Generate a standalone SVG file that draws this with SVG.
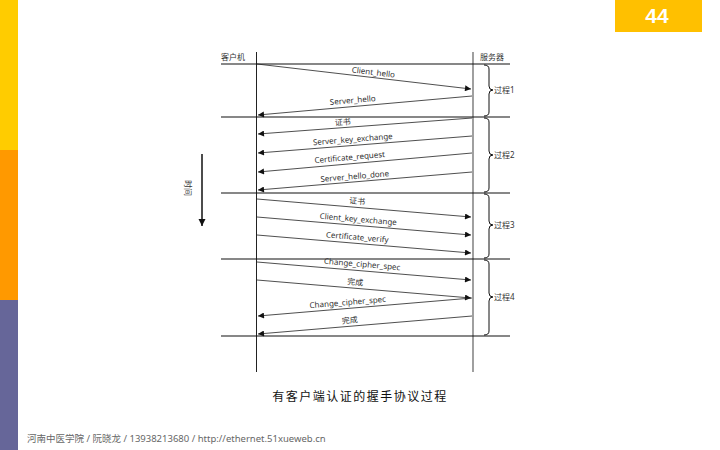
<svg xmlns="http://www.w3.org/2000/svg" width="720" height="450" viewBox="0 0 720 450">
<style>
.lbl{font-family:"Noto Sans","Noto Sans CJK SC",sans-serif;font-size:8px;fill:#333;text-anchor:middle}
.side{font-family:"Noto Sans","Noto Sans CJK SC",sans-serif;font-size:8px;fill:#333}
.msg{stroke:#222;stroke-width:0.8;fill:none;marker-end:url(#ah)}
.sep{stroke:#111;stroke-width:1.2}
.brace{stroke:#111;stroke-width:1;fill:none}
</style>
<defs>
<marker id="ah" viewBox="0 0 10 10" refX="10" refY="5" markerWidth="8" markerHeight="6" markerUnits="userSpaceOnUse" orient="auto">
<path d="M0,0 L10,5 L0,10 z" fill="#111"/>
</marker>
<marker id="ah2" viewBox="0 0 10 10" refX="10" refY="5" markerWidth="7" markerHeight="8" markerUnits="userSpaceOnUse" orient="auto">
<path d="M0,0 L10,5 L0,10 z" fill="#111"/>
</marker>
</defs>
<rect width="720" height="450" fill="#fff"/>
<g id="sidebar">
<rect x="0" y="0" width="18" height="150" fill="#FFCC00"/>
<rect x="0" y="150" width="18" height="150" fill="#FF9900"/>
<rect x="0" y="300" width="18" height="150" fill="#666699"/>
</g>
<g id="pagenum">
<rect x="615" y="0" width="87" height="32" fill="#FFC000"/>
<text x="657" y="23" font-family="Liberation Sans, Arial, sans-serif" font-size="21" font-weight="bold" fill="#fff" text-anchor="middle">44</text>
</g>
<g id="lifelines">
<line x1="256.5" y1="52" x2="256.5" y2="372" stroke="#222" stroke-width="1"/>
<line x1="473" y1="52" x2="473" y2="372" stroke="#888" stroke-width="1.6"/>
<text class="side" x="221" y="60">客户机</text>
<text class="side" x="480" y="60">服务器</text>
</g>
<g id="separators">
<line class="sep" x1="221" y1="64" x2="510" y2="64"/>
<line class="sep" x1="221" y1="117" x2="510" y2="117"/>
<line class="sep" x1="221" y1="193" x2="510" y2="193" stroke-width="2"/>
<line class="sep" x1="221" y1="259" x2="510" y2="259"/>
<line class="sep" x1="221" y1="336" x2="510" y2="336"/>
</g>
<g id="connectors">
<line class="msg" x1="257" y1="64" x2="471" y2="89"/>
<line class="msg" x1="472" y1="96" x2="258" y2="115"/>
<line class="msg" x1="472" y1="118" x2="258" y2="134"/>
<line class="msg" x1="472" y1="136" x2="258" y2="153"/>
<line class="msg" x1="472" y1="153" x2="258" y2="172"/>
<line class="msg" x1="472" y1="172" x2="258" y2="190"/>
<line class="msg" x1="257" y1="199" x2="471" y2="217"/>
<line class="msg" x1="257" y1="217" x2="471" y2="235"/>
<line class="msg" x1="257" y1="235" x2="471" y2="253"/>
<line class="msg" x1="257" y1="262" x2="471" y2="280"/>
<line class="msg" x1="257" y1="280" x2="471" y2="298"/>
<line class="msg" x1="472" y1="298" x2="258" y2="316"/>
<line class="msg" x1="472" y1="316" x2="258" y2="334"/>
</g>
<g id="labels">
<text class="lbl" transform="translate(373,75) rotate(6.7)">Client_hello</text>
<text class="lbl" transform="translate(353,103) rotate(-5)">Server_hello</text>
<text class="lbl" transform="translate(343,125) rotate(-4.2)">证书</text>
<text class="lbl" transform="translate(353,142) rotate(-4.5)">Server_key_exchange</text>
<text class="lbl" transform="translate(350,160) rotate(-5)">Certificate_request</text>
<text class="lbl" transform="translate(355,179) rotate(-4.8)">Server_hello_done</text>
<text class="lbl" transform="translate(357,204) rotate(4.8)">证书</text>
<text class="lbl" transform="translate(358,222) rotate(4.8)">Client_key_exchange</text>
<text class="lbl" transform="translate(357,240) rotate(4.8)">Certificate_verify</text>
<text class="lbl" transform="translate(362,267) rotate(4.8)">Change_cipher_spec</text>
<text class="lbl" transform="translate(355,285) rotate(4.8)">完成</text>
<text class="lbl" transform="translate(348,305) rotate(-4.8)">Change_cipher_spec</text>
<text class="lbl" transform="translate(350,323) rotate(-4.8)">完成</text>
</g>
<g id="phase1">
<path class="brace" d="M484,65 Q489,65 489,69 L489,86 Q489,90 493,90 Q489,90 489,94 L489,112 Q489,116 484,116"/>
<text class="side" x="494" y="93">过程1</text>
</g>
<g id="phase2">
<path class="brace" d="M484,118 Q489,118 489,122 L489,151 Q489,155 493,155 Q489,155 489,159 L489,188 Q489,192 484,192"/>
<text class="side" x="494" y="158">过程2</text>
</g>
<g id="phase3">
<path class="brace" d="M484,194 Q489,194 489,198 L489,221 Q489,225 493,225 Q489,225 489,229 L489,254 Q489,258 484,258"/>
<text class="side" x="494" y="228">过程3</text>
</g>
<g id="phase4">
<path class="brace" d="M484,260 Q489,260 489,264 L489,293 Q489,297 493,297 Q489,297 489,301 L489,331 Q489,335 484,335"/>
<text class="side" x="494" y="300">过程4</text>
</g>
<g id="time">
<line x1="202" y1="154" x2="202" y2="226" stroke="#111" stroke-width="1.5" marker-end="url(#ah2)"/>
<text class="side" transform="translate(185,188) rotate(90)" text-anchor="middle" font-size="7">时间</text>
</g>
<text x="360" y="401" font-family="Noto Sans CJK SC, sans-serif" font-size="12" fill="#111" text-anchor="middle" letter-spacing="1.5">有客户端认证的握手协议过程</text>
<text x="27" y="442" font-family="Noto Sans, Noto Sans CJK SC, sans-serif" font-size="9.5" fill="#666">河南中医学院 / 阮晓龙 / 13938213680 / http://ethernet.51xueweb.cn</text>
</svg>
